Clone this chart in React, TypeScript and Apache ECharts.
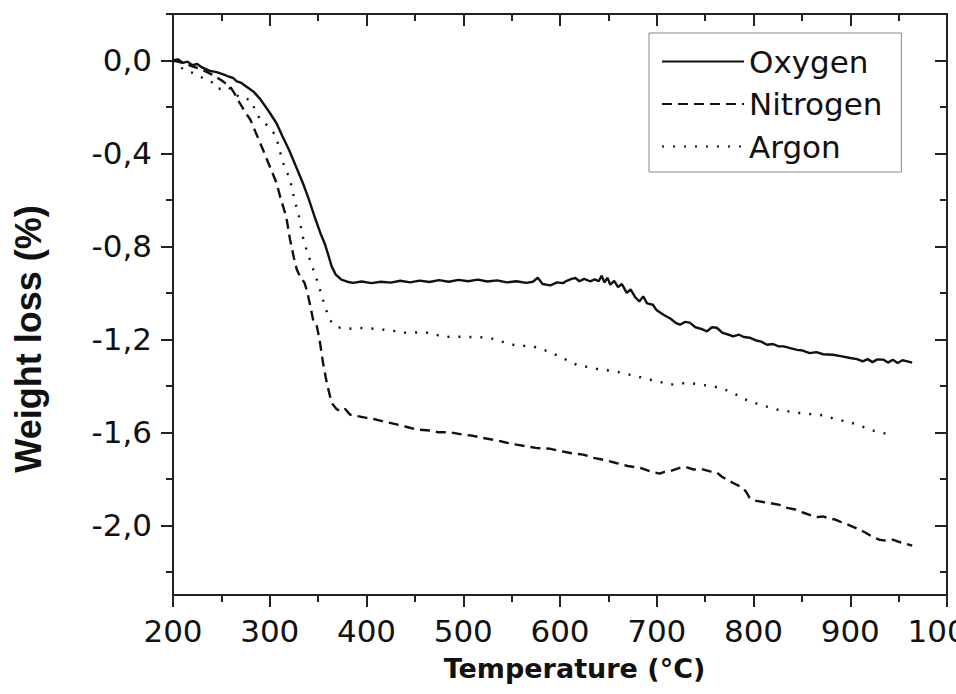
import React, { useEffect, useRef } from "react";
import * as echarts from "echarts";

// ---- data (temperature °C, weight loss %) ----
const oxygenT = [200, 205, 210, 215, 220, 225, 230, 238, 245, 252, 258, 262, 266, 270, 275, 283, 290, 300, 307, 313, 320, 327, 334, 340, 347, 353, 357, 360, 364, 368, 374, 380, 386, 395, 405, 415, 425, 435, 445, 455, 465, 475, 485, 495, 505, 515, 525, 535, 545, 555, 565, 572, 577, 582, 590, 597, 603, 607, 612, 616, 620, 625, 631, 636, 640, 643, 646, 649, 652, 656, 660, 664, 669, 673, 678, 682, 686, 690, 696, 700, 707, 714, 720, 724, 729, 734, 740, 746, 752, 757, 762, 768, 773, 779, 785, 790, 796, 803, 808, 814, 820, 826, 831, 838, 845, 851, 858, 865, 872, 882, 890, 900, 907, 913, 918, 923, 928, 934, 939, 944, 949, 954, 959, 964];
const oxygenW = [0.0, 0.005, -0.01, -0.005, -0.02, -0.015, -0.03, -0.045, -0.05, -0.06, -0.07, -0.075, -0.09, -0.095, -0.11, -0.133, -0.165, -0.225, -0.27, -0.325, -0.385, -0.455, -0.525, -0.592, -0.68, -0.75, -0.79, -0.83, -0.886, -0.92, -0.943, -0.952, -0.957, -0.951, -0.958, -0.952, -0.956, -0.948, -0.955, -0.947, -0.953, -0.945, -0.952, -0.944, -0.95, -0.943, -0.951, -0.946, -0.955, -0.95, -0.957, -0.952, -0.935, -0.962, -0.968, -0.955, -0.958, -0.948, -0.94, -0.936, -0.95, -0.94, -0.95, -0.942, -0.95, -0.926, -0.955, -0.935, -0.965, -0.948, -0.975, -0.962, -1.0, -0.985, -1.02, -1.037, -1.015, -1.045, -1.051, -1.075, -1.094, -1.11, -1.13, -1.137, -1.125, -1.128, -1.148, -1.155, -1.166, -1.148, -1.15, -1.172, -1.178, -1.187, -1.18, -1.19, -1.193, -1.205, -1.21, -1.223, -1.22, -1.23, -1.23, -1.238, -1.245, -1.248, -1.259, -1.255, -1.264, -1.266, -1.272, -1.28, -1.285, -1.295, -1.285, -1.298, -1.286, -1.287, -1.3, -1.288, -1.302, -1.29, -1.295, -1.3];

const nitrogenT = [200, 210, 220, 230, 240, 250, 255, 259, 264, 269, 275, 280, 285, 288, 293, 300, 307, 311, 317, 321, 325, 328, 332, 336, 339, 342, 345, 348, 350, 352, 355, 359, 364, 369, 374, 378, 383, 390, 400, 410, 417, 430, 440, 452, 465, 475, 486, 497, 510, 520, 535, 545, 555, 565, 575, 590, 600, 612, 624, 635, 647, 658, 670, 683, 693, 703, 708, 714, 720, 727, 732, 738, 746, 755, 762, 767, 772, 780, 789, 793, 796, 803, 810, 818, 827, 835, 843, 851, 860, 866, 872, 878, 884, 890, 898, 906, 915, 923, 930, 937, 944, 951, 958, 964];
const nitrogenW = [0.0, -0.01, -0.025, -0.04, -0.06, -0.085, -0.1, -0.111, -0.145, -0.183, -0.225, -0.255, -0.305, -0.334, -0.384, -0.456, -0.527, -0.59, -0.671, -0.771, -0.85, -0.9, -0.935, -0.957, -1.0, -1.058, -1.12, -1.13, -1.17, -1.215, -1.3, -1.388, -1.474, -1.5, -1.51, -1.5, -1.524, -1.53, -1.538, -1.545, -1.553, -1.565, -1.575, -1.588, -1.592, -1.6, -1.6, -1.608, -1.615, -1.624, -1.635, -1.645, -1.653, -1.66, -1.667, -1.671, -1.68, -1.69, -1.696, -1.71, -1.72, -1.732, -1.745, -1.753, -1.768, -1.778, -1.77, -1.767, -1.758, -1.749, -1.752, -1.76, -1.758, -1.768, -1.772, -1.79, -1.803, -1.82, -1.839, -1.86, -1.882, -1.895, -1.9, -1.905, -1.912, -1.925, -1.932, -1.945, -1.958, -1.965, -1.962, -1.97, -1.975, -1.985, -1.998, -2.012, -2.03, -2.05, -2.062, -2.066, -2.062, -2.072, -2.08, -2.088];

const argonT = [200, 205, 211, 221, 231, 242, 247, 251, 256, 262, 269, 275, 280, 285, 290, 295, 300, 307, 309, 312, 316, 321, 323, 327, 331, 333, 338, 345, 350, 354, 358, 362, 367, 373, 380, 390, 400, 410, 417, 430, 441, 455, 466, 479, 490, 504, 515, 528, 540, 555, 572, 590, 605, 617, 630, 641, 653, 665, 680, 693, 705, 714, 724, 734, 746, 758, 768, 779, 787, 796, 810, 824, 836, 848, 860, 872, 886, 900, 912, 924, 938];
const argonW = [0.0, -0.015, -0.04, -0.054, -0.076, -0.097, -0.123, -0.118, -0.112, -0.13, -0.162, -0.165, -0.169, -0.212, -0.255, -0.27, -0.291, -0.327, -0.37, -0.413, -0.47, -0.506, -0.556, -0.62, -0.685, -0.742, -0.814, -0.9, -0.96, -1.015, -1.07, -1.115, -1.14, -1.151, -1.155, -1.151, -1.152, -1.155, -1.158, -1.165, -1.172, -1.17, -1.172, -1.19, -1.188, -1.19, -1.19, -1.194, -1.21, -1.227, -1.23, -1.255, -1.285, -1.309, -1.32, -1.33, -1.335, -1.345, -1.36, -1.373, -1.385, -1.395, -1.39, -1.388, -1.395, -1.402, -1.412, -1.43, -1.45, -1.467, -1.485, -1.502, -1.51, -1.517, -1.522, -1.527, -1.545, -1.557, -1.575, -1.593, -1.607];

const seriesNames = ["Oxygen", "Nitrogen", "Argon"];
const yMajorTicks = [0, -0.4, -0.8, -1.2, -1.6, -2.0];
const yMinorTicks = [0.2, -0.2, -0.6, -1.0, -1.4, -1.8, -2.2];
const xMin = 200;
const xMax = 1000;
const yMin = -2.3;
const yMax = 0.2;

const zip = (t: number[], w: number[]) => t.map((x, i) => [x, w[i]]);

const FONT = "DejaVu Sans";
const INK = "#111";
const AXIS = "#222";

export default function App() {
  const ref = useRef<HTMLDivElement>(null);
  useEffect(() => {
    if (!ref.current) return;
    const chart = echarts.init(ref.current, undefined, { renderer: "svg" });
    const fmt = (v: number) => {
      const s = Math.abs(v) < 1e-9 ? "0.0" : v.toFixed(1);
      return s.replace(".", ",");
    };
    const baseY = {
      type: "value" as const,
      min: yMin,
      max: yMax,
      splitLine: { show: false },
    };
    const baseX = {
      type: "value" as const,
      min: xMin,
      max: xMax,
      interval: 100,
      splitLine: { show: false },
    };
    const lineCommon = { color: INK, width: 2.4 };
    chart.setOption({
      animation: false,
      backgroundColor: "#fff",
      grid: { left: 173, right: 9, top: 14, bottom: 99, containLabel: false, outerBoundsMode: "none" },
      legend: {
        orient: "vertical",
        left: 649,
        top: 33,
        padding: [13, 19, 10, 12],
        itemWidth: 82,
        itemHeight: 30,
        itemGap: 11.5,
        borderColor: "#888",
        borderWidth: 1,
        data: seriesNames,
        itemStyle: { opacity: 0 },
        lineStyle: { width: 2 },
        textStyle: { fontFamily: FONT, fontSize: 31, color: INK, lineHeight: 31 },
      },
      xAxis: [
        {
          ...baseX,
          position: "bottom",
          name: "Temperature (°C)",
          nameLocation: "middle",
          nameGap: 60,
          nameTextStyle: {
            fontFamily: FONT,
            fontWeight: "bold",
            fontSize: 27,
            color: INK,
            padding: [0, 0, 0, 29],
          },
          axisLine: { onZero: false, lineStyle: { color: AXIS, width: 2 } },
          axisTick: { length: 12, lineStyle: { color: AXIS, width: 2 } },
          minorTick: { show: true, splitNumber: 2, length: 7, lineStyle: { color: AXIS, width: 2 } },
          axisLabel: {
            fontFamily: FONT,
            fontSize: 31,
            color: INK,
            margin: 20,
            formatter: (v: number) => String(v),
          },
        },
        {
          ...baseX,
          position: "top",
          axisLine: { onZero: false, lineStyle: { color: AXIS, width: 2 } },
          axisTick: { inside: true, length: 12, lineStyle: { color: AXIS, width: 2 } },
          minorTick: { show: true, splitNumber: 2, length: 7, lineStyle: { color: AXIS, width: 2 } },
          axisLabel: { show: false },
        },
      ],
      yAxis: [
        {
          ...baseY,
          position: "left",
          name: "Weight loss (%)",
          nameLocation: "middle",
          nameGap: 127,
          nameTextStyle: {
            fontFamily: "Liberation Sans",
            fontWeight: "bold",
            fontSize: 36,
            color: INK,
            padding: [0, 69, 0, 0],
          },
          axisLine: { onZero: false, lineStyle: { color: AXIS, width: 2 } },
          axisTick: { customValues: yMajorTicks, length: 12, lineStyle: { color: AXIS, width: 2 } },
          axisLabel: {
            customValues: yMajorTicks,
            fontFamily: FONT,
            fontSize: 31,
            color: INK,
            margin: 21,
            formatter: fmt,
          },
        },
        {
          ...baseY,
          position: "left",
          axisLine: { show: false, onZero: false },
          axisTick: { customValues: yMinorTicks, length: 7, lineStyle: { color: AXIS, width: 2 } },
          axisLabel: { show: false },
        },
        {
          ...baseY,
          position: "right",
          axisLine: { onZero: false, lineStyle: { color: AXIS, width: 2 } },
          axisTick: { inside: true, customValues: yMajorTicks, length: 12, lineStyle: { color: AXIS, width: 2 } },
          axisLabel: { show: false },
        },
        {
          ...baseY,
          position: "right",
          axisLine: { show: false, onZero: false },
          axisTick: { inside: true, customValues: yMinorTicks, length: 7, lineStyle: { color: AXIS, width: 2 } },
          axisLabel: { show: false },
        },
      ],
      series: [
        {
          name: seriesNames[0],
          type: "line",
          showSymbol: false,
          symbol: "none",
          data: zip(oxygenT, oxygenW),
          lineStyle: { ...lineCommon, type: "solid" },
          itemStyle: { color: INK },
        },
        {
          name: seriesNames[1],
          type: "line",
          showSymbol: false,
          symbol: "none",
          data: zip(nitrogenT, nitrogenW),
          lineStyle: { ...lineCommon, type: [10, 6] },
          itemStyle: { color: INK },
        },
        {
          name: seriesNames[2],
          type: "line",
          showSymbol: false,
          symbol: "none",
          data: zip(argonT, argonW),
          lineStyle: { ...lineCommon, type: [2, 9] },
          itemStyle: { color: INK },
        },
      ],
    });
    return () => chart.dispose();
  }, []);
  return (
    <div
      ref={ref}
      style={{ position: "fixed", left: 0, top: 0, width: 956, height: 694, background: "#fff" }}
    />
  );
}
